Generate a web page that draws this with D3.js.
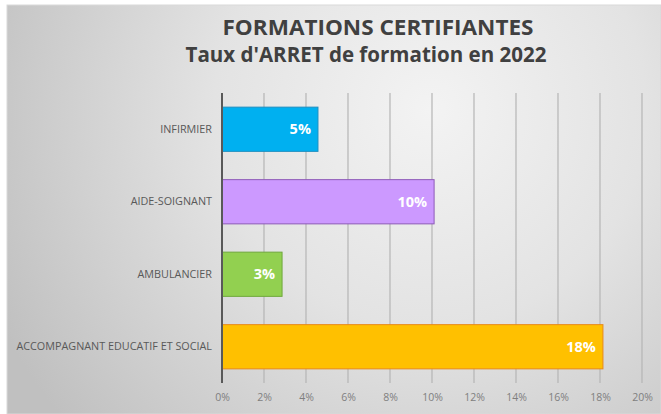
<!DOCTYPE html>
<html><head><meta charset="utf-8">
<script src="https://cdn.jsdelivr.net/npm/d3@7"></script>
<style>html,body{margin:0;padding:0;background:#fff;}svg{display:block;}</style>
</head><body>
<svg id="c" width="661" height="414"></svg>
<script>
const categories = ["INFIRMIER", "AIDE-SOIGNANT", "AMBULANCIER", "ACCOMPAGNANT EDUCATIF ET SOCIAL"];
const values = [0.0457, 0.101, 0.0286, 0.1814];
const valueLabels = ["5%", "10%", "3%", "18%"];
const fillColors = ["#00B0F0", "#CC99FF", "#92D050", "#FFC000"];
const strokeColors = ["#1E8FC0", "#8E5BB8", "#6FA83C", "#E88A1A"];
const tickValues = [0, 0.02, 0.04, 0.06, 0.08, 0.10, 0.12, 0.14, 0.16, 0.18, 0.20];
const titleLines = ["FORMATIONS CERTIFIANTES", "Taux d'ARRET de formation en 2022"];

const svg = d3.select("#c");
const defs = svg.append("defs");
const g = defs.append("radialGradient").attr("id","bg")
  .attr("gradientUnits","userSpaceOnUse").attr("cx",430).attr("cy",110).attr("r",480);
g.append("stop").attr("offset","0%").attr("stop-color","#f3f3f3");
g.append("stop").attr("offset","45%").attr("stop-color","#e3e3e3");
g.append("stop").attr("offset","100%").attr("stop-color","#c0c0c0");

svg.append("rect").attr("x",7).attr("y",5).attr("width",654).attr("height",409)
  .attr("fill","url(#bg)").attr("stroke","#d9d9d9").attr("stroke-width",1);

const font = "'Open Sans', 'DejaVu Sans', sans-serif";

const x = d3.scaleLinear().domain([0, 0.20]).range([222, 642]);
const y = d3.scaleBand().domain(categories).range([93, 383]).paddingInner(0.39).paddingOuter(0.195);

// gridlines
svg.append("g").selectAll("line").data(tickValues.slice(1)).join("line")
  .attr("x1", d => x(d)).attr("x2", d => x(d))
  .attr("y1", 93).attr("y2", 383)
  .attr("stroke", "#b5b5b5").attr("stroke-width", 1.2);

// bars
svg.append("g").selectAll("rect").data(categories).join("rect")
  .attr("x", x(0)).attr("y", d => y(d))
  .attr("width", (d,i) => x(values[i]) - x(0))
  .attr("height", y.bandwidth())
  .attr("fill", (d,i) => fillColors[i])
  .attr("stroke", (d,i) => strokeColors[i]).attr("stroke-width", 1);

// zero axis line
svg.append("line").attr("x1", x(0)).attr("x2", x(0)).attr("y1", 93).attr("y2", 383)
  .attr("stroke", "#595959").attr("stroke-width", 2);

// value labels
svg.append("g").selectAll("text").data(categories).join("text")
  .attr("x", (d,i) => x(values[i]) - 7)
  .attr("y", d => y(d) + y.bandwidth()/2)
  .attr("dy", "0.35em").attr("text-anchor", "end")
  .attr("font-family", font).attr("font-weight", "bold").attr("font-size", 14.5)
  .attr("fill", "#ffffff")
  .text((d,i) => valueLabels[i]);

// category axis
const yAxis = d3.axisLeft(y).tickSize(0).tickPadding(10);
const ya = svg.append("g").attr("transform", `translate(${x(0)},0)`).call(yAxis);
ya.select(".domain").remove();
ya.selectAll("text").attr("font-family", font).attr("font-size", 10.8).attr("fill", "#595959");

// x axis labels
const xAxis = d3.axisBottom(x).tickValues(tickValues).tickFormat(d3.format(".0%")).tickSize(0).tickPadding(10);
const xa = svg.append("g").attr("transform", `translate(0,384)`).call(xAxis);
xa.select(".domain").remove();
xa.selectAll("text").attr("font-family", font).attr("font-size", 10.5).attr("fill", "#7f7f7f");

// title
svg.append("text").attr("x", 378).attr("y", 35).attr("text-anchor","middle")
  .attr("font-family", font).attr("font-weight","bold").attr("font-size", 21)
  .attr("textLength", 311).attr("lengthAdjust", "spacingAndGlyphs")
  .attr("fill", "#404040").text(titleLines[0]);
svg.append("text").attr("x", 366).attr("y", 62).attr("text-anchor","middle")
  .attr("font-family", font).attr("font-weight","bold").attr("font-size", 21)
  .attr("textLength", 361).attr("lengthAdjust", "spacingAndGlyphs")
  .attr("fill", "#404040").text(titleLines[1]);
</script>
</body></html>
